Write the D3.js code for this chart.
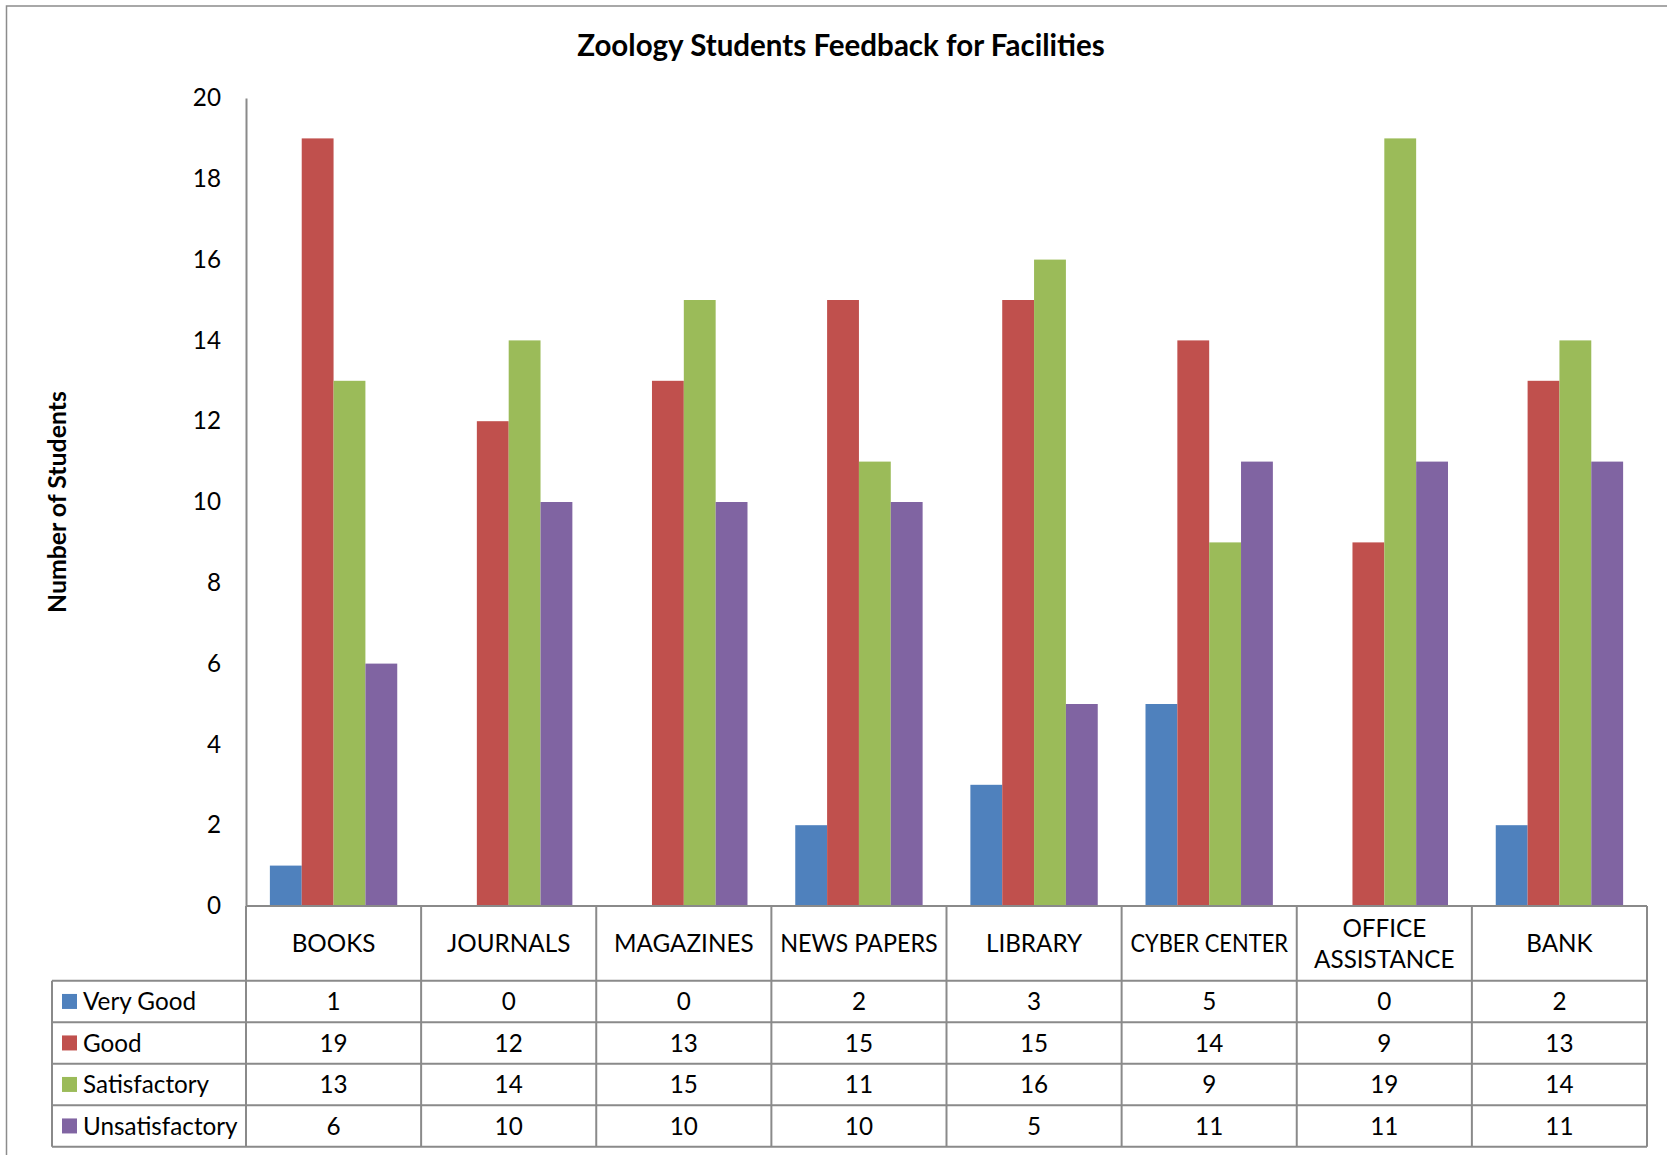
<!DOCTYPE html>
<html>
<head>
<meta charset="utf-8">
<script src="https://cdn.jsdelivr.net/npm/d3@7"></script>
<style>
  html, body { margin: 0; padding: 0; background: #ffffff; }
  svg { display: block; }
</style>
</head>
<body>
<div id="chart"></div>
<script>
// ---------------- DATA ----------------
const titleText = "Zoology Students Feedback for Facilities";
const yAxisTitle = "Number of Students";
const categories = ["BOOKS", "JOURNALS", "MAGAZINES", "NEWS PAPERS", "LIBRARY", "CYBER CENTER", "OFFICE ASSISTANCE", "BANK"];
const seriesNames = ["Very Good", "Good", "Satisfactory", "Unsatisfactory"];
const veryGood = [1, 0, 0, 2, 3, 5, 0, 2];
const good = [19, 12, 13, 15, 15, 14, 9, 13];
const satisfactory = [13, 14, 15, 11, 16, 9, 19, 14];
const unsatisfactory = [6, 10, 10, 10, 5, 11, 11, 11];
const yTicks = [0, 2, 4, 6, 8, 10, 12, 14, 16, 18, 20];
const seriesColors = ["#4F81BD", "#C0504D", "#9BBB59", "#8064A2"];

const seriesValues = [veryGood, good, satisfactory, unsatisfactory];

// ---------------- LAYOUT ----------------
const W = 1667, H = 1155;
const FONT = "Lato, 'Open Sans', sans-serif";
const plotLeft = 246, plotRight = 1647, plotTop = 98, plotBottom = 906;
const headerBottom = 980.7;
const rowH = 41.5;
const legendLeft = 52;
const gridColor = "#8a8a8a";

const svg = d3.select("#chart").append("svg")
  .attr("width", W).attr("height", H)
  .style("background", "#ffffff");

// measure helper: font size giving target width
function fitSize(text, weight, target) {
  const t = svg.append("text")
    .attr("font-family", FONT).attr("font-weight", weight)
    .attr("font-size", 100).text(text);
  const len = t.node().getComputedTextLength();
  t.remove();
  return 100 * target / len;
}
const fsBody = fitSize("Very Good", "normal", 113);
const fsTitle = fitSize(titleText, "bold", 528);
const fsYTitle = fitSize(yAxisTitle, "bold", 222);
const capBody = fsBody * 0.36;

// outer chart border (right/bottom edges lie beyond the picture)
svg.append("rect")
  .attr("x", 6.5).attr("y", 6).attr("width", W + 20).attr("height", H + 20)
  .attr("fill", "none").attr("stroke", "#8c8c8c").attr("stroke-width", 1.5);

// title
svg.append("text")
  .attr("x", 841).attr("y", 56)
  .attr("text-anchor", "middle")
  .attr("font-family", FONT).attr("font-weight", "bold")
  .attr("font-size", fsTitle).attr("fill", "#000")
  .text(titleText);

// scales
const x0 = d3.scaleBand().domain(categories).range([plotLeft, plotRight]).paddingInner(0).paddingOuter(0);
const bw = x0.bandwidth();
const x1 = d3.scaleBand().domain(seriesNames).range([bw * 0.75 / 5.5, bw - bw * 0.75 / 5.5]).padding(0);
const y = d3.scaleLinear().domain([0, 20]).range([plotBottom, plotTop]);

// y axis
const yAxis = svg.append("g")
  .attr("transform", `translate(${plotLeft},0)`)
  .call(d3.axisLeft(y).tickValues(yTicks).tickSize(0).tickSizeOuter(0).tickPadding(25));
yAxis.select(".domain").attr("stroke", gridColor).attr("stroke-width", 2);
yAxis.selectAll("text")
  .attr("font-family", FONT).attr("font-size", fsBody).attr("fill", "#000");

// y axis title
svg.append("text")
  .attr("transform", `translate(66,${(plotTop + plotBottom) / 2}) rotate(-90)`)
  .attr("text-anchor", "middle")
  .attr("font-family", FONT).attr("font-weight", "bold")
  .attr("font-size", fsYTitle).attr("fill", "#000")
  .text(yAxisTitle);

// bars
const groups = svg.append("g").selectAll("g")
  .data(categories)
  .join("g")
  .attr("transform", d => `translate(${x0(d)},0)`);

groups.selectAll("rect")
  .data((c, ci) => seriesNames.map((s, si) => ({ s, si, v: seriesValues[si][ci] })))
  .join("rect")
  .attr("x", d => x1(d.s))
  .attr("width", x1.bandwidth())
  .attr("y", d => y(d.v))
  .attr("height", d => y(0) - y(d.v))
  .attr("fill", d => seriesColors[d.si]);

// ---------------- DATA TABLE ----------------
const tbl = svg.append("g");
const rowTops = seriesNames.map((s, i) => headerBottom + i * rowH);
const tableBottom = headerBottom + seriesNames.length * rowH;

// horizontal lines
tbl.append("line").attr("x1", plotLeft).attr("x2", plotRight).attr("y1", plotBottom).attr("y2", plotBottom);
[...rowTops, tableBottom].forEach(yy => {
  tbl.append("line").attr("x1", legendLeft).attr("x2", plotRight).attr("y1", yy).attr("y2", yy);
});
// vertical lines
tbl.append("line").attr("x1", legendLeft).attr("x2", legendLeft).attr("y1", headerBottom).attr("y2", tableBottom);
categories.forEach(c => {
  tbl.append("line").attr("x1", x0(c)).attr("x2", x0(c)).attr("y1", plotBottom).attr("y2", tableBottom);
});
tbl.append("line").attr("x1", plotRight).attr("x2", plotRight).attr("y1", plotBottom).attr("y2", tableBottom);
tbl.selectAll("line").attr("stroke", gridColor).attr("stroke-width", 2);

// header labels (wrap only if wider than column; slightly condense near-full labels)
const headerCenter = (plotBottom + headerBottom) / 2;
const maxLabel = bw * 0.9;
categories.forEach(c => {
  const cx = x0(c) + bw / 2;
  const t = tbl.append("text")
    .attr("text-anchor", "middle")
    .attr("font-family", FONT).attr("font-size", fsBody).attr("fill", "#000");
  t.text(c);
  const wFull = t.node().getComputedTextLength();
  let lines = [c];
  if (wFull > bw) {
    lines = c.split(" ");
  }
  t.text(null);
  const lh = fsBody * 1.28;
  const first = headerCenter + capBody - (lines.length - 1) * lh / 2;
  lines.forEach((ln, i) => {
    const ts = t.append("tspan").attr("x", cx).attr("y", first + i * lh).text(ln);
    if (lines.length === 1 && wFull > maxLabel) {
      ts.attr("textLength", maxLabel).attr("lengthAdjust", "spacingAndGlyphs");
    }
  });
});

// data rows
seriesNames.forEach((s, si) => {
  const cy = rowTops[si] + rowH / 2;
  tbl.append("rect")
    .attr("x", 62).attr("y", cy - 7.5).attr("width", 15).attr("height", 15)
    .attr("fill", seriesColors[si]);
  tbl.append("text")
    .attr("x", 83).attr("y", cy + capBody)
    .attr("font-family", FONT).attr("font-size", fsBody).attr("fill", "#000")
    .text(s);
  categories.forEach((c, ci) => {
    tbl.append("text")
      .attr("x", x0(c) + bw / 2).attr("y", cy + capBody)
      .attr("text-anchor", "middle")
      .attr("font-family", FONT).attr("font-size", fsBody).attr("fill", "#000")
      .text(seriesValues[si][ci]);
  });
});
</script>
</body>
</html>
